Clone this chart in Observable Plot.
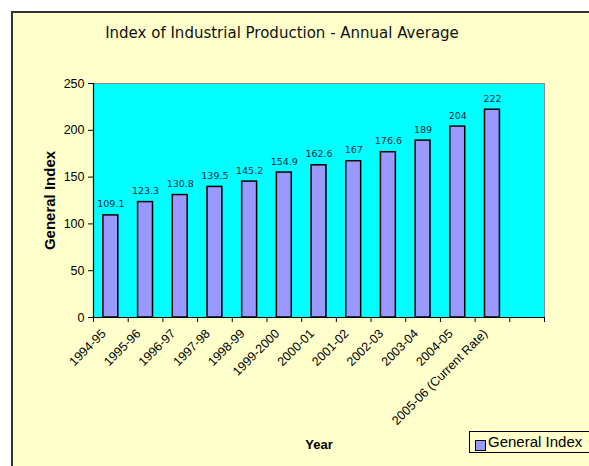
<!DOCTYPE html>
<html>
<head>
<meta charset="utf-8">
<script src="https://cdn.jsdelivr.net/npm/d3@7"></script>
<script src="https://cdn.jsdelivr.net/npm/@observablehq/plot@0.6"></script>
<style>
  html, body { margin: 0; padding: 0; background: #ffffff; width: 589px; height: 466px; overflow: hidden; }
  #panel { position: absolute; left: 11px; top: 11px; width: 600px; height: 480px; background: #FFFFCC; border-left: 2px solid #333; border-top: 2px solid #333; }
  #title { position: absolute; left: 82px; width: 400px; top: 24px; text-align: center; font-family: "DejaVu Sans", Verdana, sans-serif; font-size: 15px; color: #111; white-space: nowrap; }
  #chart { position: absolute; left: 0; top: 0; }
  #legend { position: absolute; left: 469px; top: 431px; width: 130px; height: 20px; border: 1px solid #000; background: transparent; font-family: "Liberation Sans", Arial, sans-serif; font-size: 15px; color: #000; white-space: nowrap; }
  #legend .sw { position: absolute; left: 5px; top: 8px; width: 9px; height: 9px; background: #9999FF; border: 1px solid #000; }
  #legend .lb { position: absolute; left: 18px; top: 1px; }
</style>
</head>
<body>
<div id="panel"></div>
<div id="title">Index of Industrial Production - Annual Average</div>
<div id="chart"></div>
<div id="legend"><span class="sw"></span><span class="lb">General Index</span></div>
<script>
const categories = ["1994-95","1995-96","1996-97","1997-98","1998-99","1999-2000","2000-01","2001-02","2002-03","2003-04","2004-05","2005-06 (Current Rate)"];
const values = [109.1, 123.3, 130.8, 139.5, 145.2, 154.9, 162.6, 167, 176.6, 189, 204, 222];
const yTicks = [0, 50, 100, 150, 200, 250];
const slotCount = 13; // one empty slot after the last category, as in the reference

const data = categories.map((c, i) => ({category: c, value: values[i], idx: i}));
const barHalf = 0.215;
const boundaries = d3.range(slotCount + 1);
const centers = categories.map((c, i) => i + 0.5);

const chart = Plot.plot({
  width: 589,
  height: 466,
  marginLeft: 93,
  marginRight: 45,
  marginTop: 83,
  marginBottom: 149,
  style: {background: "transparent", fontFamily: "'Liberation Sans', Arial, sans-serif", fontSize: "12px", color: "#000"},
  x: {type: "linear", domain: [0, slotCount], axis: null},
  y: {type: "linear", domain: [0, 250], axis: null},
  marks: [
    Plot.frame({fill: "#00FFFF", stroke: "#8c8c8c"}),
    Plot.rectY(data, {x1: d => d.idx + 0.5 - barHalf, x2: d => d.idx + 0.5 + barHalf, y1: () => 0, y2: "value", fill: "#9999FF", stroke: "#000", strokeWidth: 1.5}),
    Plot.text(data, {x: d => d.idx + 0.5, y: "value", text: d => String(d.value), dy: -11, fill: "#0a2a3a", fontSize: 9.5, fontFamily: "'DejaVu Sans', Verdana, sans-serif"}),
    Plot.ruleY([0], {stroke: "#000", strokeWidth: 1.2}),
    Plot.ruleX([0], {stroke: "#000", strokeWidth: 1.2}),
    Plot.axisY({ticks: yTicks, tickSize: 5, tickPadding: 4, stroke: "#000", fontSize: 12.5, label: null}),
    Plot.axisX({ticks: boundaries, tickSize: 5, tickFormat: () => "", label: null, stroke: "#000"}),
    Plot.axisX({ticks: centers, tickSize: 0, tickPadding: 8, tickRotate: -45, tickFormat: d => categories[Math.floor(d)], label: null, fontSize: 12.5, dx: -7, dy: 6}),
    Plot.text(["General Index"], {frameAnchor: "left", textAnchor: "middle", dx: -43, rotate: -90, text: d => d, fontWeight: "bold", fontSize: 15}),
    Plot.text(["Year"], {frameAnchor: "bottom", textAnchor: "middle", dy: 131, text: d => d, fontWeight: "bold", fontSize: 13})
  ]
});
document.getElementById("chart").appendChild(chart);
</script>
</body>
</html>
